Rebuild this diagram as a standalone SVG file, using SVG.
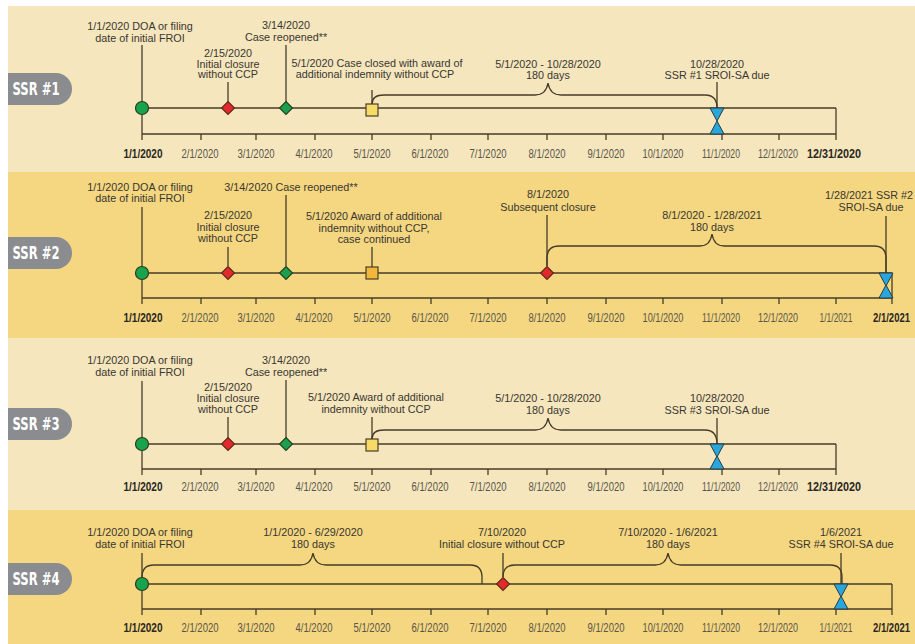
<svg xmlns="http://www.w3.org/2000/svg" width="915" height="644" viewBox="0 0 915 644">
<defs>
<style>
.bgL{fill:#f5e6bd}
.bgD{fill:#f4d780}
.pill{fill:#8b8c8f}
.pt{font-family:'DejaVu Sans Condensed','DejaVu Sans',sans-serif;font-weight:bold;font-size:17px;fill:#ffffff;text-anchor:middle}
.ln{stroke:#463c28;stroke-width:1.3;fill:none}
.lb{font-family:'Liberation Sans',Arial,sans-serif;font-size:10.8px;fill:#3a3631;text-anchor:middle}
.tk{font-family:'Liberation Sans',Arial,sans-serif;font-size:12.5px;fill:#5a554c;text-anchor:middle}
.tkb{font-family:'Liberation Sans',Arial,sans-serif;font-size:12.5px;font-weight:bold;fill:#2a2620;text-anchor:middle}
.st{text-anchor:start}
.en{text-anchor:end}
.circ{fill:#17a44c;stroke:#2d3a22;stroke-width:1.2}
.red{fill:#e2292c;stroke:#5a2a1c;stroke-width:1.1}
.grn{fill:#1e9e4f;stroke:#23401f;stroke-width:1.1}
.sqL{fill:#f8da66;stroke:#4a3f28;stroke-width:1.2}
.sqD{fill:#f2b63a;stroke:#4a3f28;stroke-width:1.2}
.tri{fill:#29a7dd;stroke:#2b3a40;stroke-width:1}
</style>
</defs>
<rect x="8" y="6" width="907" height="166" class="bgL"/>
<rect x="8" y="172" width="907" height="166" class="bgD"/>
<rect x="8" y="338" width="907" height="172" class="bgL"/>
<rect x="8" y="510" width="907" height="134" class="bgD"/>

<!-- Panel 1 -->
<g id="ssr1-label"><path class="pill" d="M8,73 H56 A16,16 0 0 1 56,105 H8 Z"/><text class="pt" x="36" y="95" textLength="47" lengthAdjust="spacingAndGlyphs">SSR #1</text></g>
<g id="ssr1-connectors">
<line class="ln" x1="142" y1="108" x2="836" y2="108"/>
<line class="ln" x1="142" y1="134" x2="836" y2="134"/>
<line class="ln" x1="142" y1="45" x2="142" y2="140"/>
<line class="ln" x1="836" y1="108" x2="836" y2="140"/>
<path class="ln" d="M201,134V140M256,134V140M315,134V140M372,134V140M431,134V140M488,134V140M547,134V140M606,134V140M663,134V140M722,134V140M779,134V140"/>
<line class="ln" x1="228" y1="82" x2="228" y2="102"/>
<line class="ln" x1="286" y1="45" x2="286" y2="102"/>
<line class="ln" x1="372" y1="90" x2="372" y2="104"/>
<line class="ln" x1="717" y1="82" x2="717" y2="108"/>
<path class="ln" d="M372,104 Q372,95 384,95 H535 Q546,95 548,83 Q550,95 561,95 H705 Q717,95 717,108"/>
</g>
<g id="ssr1-events">
<circle class="circ" cx="142" cy="108" r="6.5"/>
<polygon class="red" points="228,101.5 234.5,108 228,114.5 221.5,108"/>
<polygon class="grn" points="286,101.5 292.5,108 286,114.5 279.5,108"/>
<rect class="sqL" x="366" y="104" width="12" height="12"/>
<polygon class="tri" points="710,108 724,108 717,121"/>
<polygon class="tri" points="710,134 724,134 717,121"/>
</g>
<g id="ssr1-texts">
<text class="lb" x="140" y="30">1/1/2020 DOA or filing</text>
<text class="lb" x="140" y="42">date of initial FROI</text>
<text class="lb" x="228" y="57">2/15/2020</text>
<text class="lb" x="228" y="67.5">Initial closure</text>
<text class="lb" x="228" y="78">without CCP</text>
<text class="lb" x="286" y="29">3/14/2020</text>
<text class="lb" x="286" y="41">Case reopened**</text>
<text class="lb" x="377" y="67">5/1/2020 Case closed with award of</text>
<text class="lb" x="375" y="78">additional indemnity without CCP</text>
<text class="lb" x="548" y="68">5/1/2020 - 10/28/2020</text>
<text class="lb" x="548" y="79">180 days</text>
<text class="lb" x="717" y="68">10/28/2020</text>
<text class="lb" x="717" y="79">SSR #1 SROI-SA due</text>
</g>
<g id="ssr1-axis">
<text class="tkb" x="143" y="158" textLength="39" lengthAdjust="spacingAndGlyphs">1/1/2020</text>
<text class="tk" x="200" y="158" textLength="37" lengthAdjust="spacingAndGlyphs">2/1/2020</text>
<text class="tk" x="256" y="158" textLength="37" lengthAdjust="spacingAndGlyphs">3/1/2020</text>
<text class="tk" x="314" y="158" textLength="37" lengthAdjust="spacingAndGlyphs">4/1/2020</text>
<text class="tk" x="372" y="158" textLength="37" lengthAdjust="spacingAndGlyphs">5/1/2020</text>
<text class="tk" x="430" y="158" textLength="37" lengthAdjust="spacingAndGlyphs">6/1/2020</text>
<text class="tk" x="488" y="158" textLength="37" lengthAdjust="spacingAndGlyphs">7/1/2020</text>
<text class="tk" x="547" y="158" textLength="37" lengthAdjust="spacingAndGlyphs">8/1/2020</text>
<text class="tk" x="606" y="158" textLength="37" lengthAdjust="spacingAndGlyphs">9/1/2020</text>
<text class="tk" x="663" y="158" textLength="41" lengthAdjust="spacingAndGlyphs">10/1/2020</text>
<text class="tk" x="721" y="158" textLength="38" lengthAdjust="spacingAndGlyphs">11/1/2020</text>
<text class="tk" x="778" y="158" textLength="40" lengthAdjust="spacingAndGlyphs">12/1/2020</text>
<text class="tkb st" x="807" y="158" textLength="54" lengthAdjust="spacingAndGlyphs">12/31/2020</text>
</g>

<!-- Panel 2 -->
<g id="ssr2-label"><path class="pill" d="M8,237 H56 A16,16 0 0 1 56,269 H8 Z"/><text class="pt" x="36" y="259" textLength="47" lengthAdjust="spacingAndGlyphs">SSR #2</text></g>
<g id="ssr2-connectors">
<line class="ln" x1="142" y1="273" x2="892" y2="273"/>
<line class="ln" x1="142" y1="298" x2="892" y2="298"/>
<line class="ln" x1="142" y1="207" x2="142" y2="304"/>
<line class="ln" x1="892" y1="273" x2="892" y2="304"/>
<path class="ln" d="M201,298V304M256,298V304M315,298V304M372,298V304M431,298V304M488,298V304M547,298V304M606,298V304M663,298V304M722,298V304M779,298V304M836,298V304"/>
<line class="ln" x1="228" y1="247" x2="228" y2="266"/>
<line class="ln" x1="286" y1="195" x2="286" y2="266"/>
<line class="ln" x1="372" y1="247" x2="372" y2="267"/>
<line class="ln" x1="547" y1="215" x2="547" y2="266"/>
<line class="ln" x1="886" y1="216" x2="886" y2="273"/>
<path class="ln" d="M547,266 V258 Q547,246 559,246 H700 Q710,246 712,234 Q714,246 724,246 H874 Q886,246 886,258 V273"/>
</g>
<g id="ssr2-events">
<circle class="circ" cx="142" cy="273" r="6.5"/>
<polygon class="red" points="228,266.5 234.5,273 228,279.5 221.5,273"/>
<polygon class="grn" points="286,266.5 292.5,273 286,279.5 279.5,273"/>
<rect class="sqD" x="366" y="267" width="12" height="12"/>
<polygon class="red" points="547,266.5 553.5,273 547,279.5 540.5,273"/>
<polygon class="tri" points="879,273 893,273 886,286"/>
<polygon class="tri" points="879,298 893,298 886,285"/>
</g>
<g id="ssr2-texts">
<text class="lb" x="140" y="191">1/1/2020 DOA or filing</text>
<text class="lb" x="140" y="202">date of initial FROI</text>
<text class="lb" x="291" y="191">3/14/2020 Case reopened**</text>
<text class="lb" x="228" y="219">2/15/2020</text>
<text class="lb" x="228" y="231">Initial closure</text>
<text class="lb" x="228" y="242">without CCP</text>
<text class="lb" x="374" y="220">5/1/2020 Award of additional</text>
<text class="lb" x="374" y="232">indemnity without CCP,</text>
<text class="lb" x="374" y="243">case continued</text>
<text class="lb" x="548" y="198">8/1/2020</text>
<text class="lb" x="548" y="211">Subsequent closure</text>
<text class="lb" x="712" y="219">8/1/2020 - 1/28/2021</text>
<text class="lb" x="712" y="231">180 days</text>
<text class="lb" x="869" y="199">1/28/2021 SSR #2</text>
<text class="lb" x="871" y="211">SROI-SA due</text>
</g>
<g id="ssr2-axis">
<text class="tkb" x="143" y="322" textLength="39" lengthAdjust="spacingAndGlyphs">1/1/2020</text>
<text class="tk" x="200" y="322" textLength="37" lengthAdjust="spacingAndGlyphs">2/1/2020</text>
<text class="tk" x="256" y="322" textLength="37" lengthAdjust="spacingAndGlyphs">3/1/2020</text>
<text class="tk" x="314" y="322" textLength="37" lengthAdjust="spacingAndGlyphs">4/1/2020</text>
<text class="tk" x="372" y="322" textLength="37" lengthAdjust="spacingAndGlyphs">5/1/2020</text>
<text class="tk" x="430" y="322" textLength="37" lengthAdjust="spacingAndGlyphs">6/1/2020</text>
<text class="tk" x="488" y="322" textLength="37" lengthAdjust="spacingAndGlyphs">7/1/2020</text>
<text class="tk" x="547" y="322" textLength="37" lengthAdjust="spacingAndGlyphs">8/1/2020</text>
<text class="tk" x="606" y="322" textLength="37" lengthAdjust="spacingAndGlyphs">9/1/2020</text>
<text class="tk" x="663" y="322" textLength="41" lengthAdjust="spacingAndGlyphs">10/1/2020</text>
<text class="tk" x="721" y="322" textLength="38" lengthAdjust="spacingAndGlyphs">11/1/2020</text>
<text class="tk" x="778" y="322" textLength="40" lengthAdjust="spacingAndGlyphs">12/1/2020</text>
<text class="tk" x="836" y="322" textLength="33" lengthAdjust="spacingAndGlyphs">1/1/2021</text>
<text class="tkb en" x="910" y="322" textLength="37" lengthAdjust="spacingAndGlyphs">2/1/2021</text>
</g>

<!-- Panel 3 -->
<g id="ssr3-label"><path class="pill" d="M8,408 H56 A16,16 0 0 1 56,440 H8 Z"/><text class="pt" x="36" y="430" textLength="47" lengthAdjust="spacingAndGlyphs">SSR #3</text></g>
<g id="ssr3-connectors">
<line class="ln" x1="142" y1="444" x2="836" y2="444"/>
<line class="ln" x1="142" y1="469" x2="836" y2="469"/>
<line class="ln" x1="142" y1="381" x2="142" y2="475"/>
<line class="ln" x1="836" y1="444" x2="836" y2="475"/>
<path class="ln" d="M201,469V475M256,469V475M315,469V475M372,469V475M431,469V475M488,469V475M547,469V475M606,469V475M663,469V475M722,469V475M779,469V475"/>
<line class="ln" x1="228" y1="417" x2="228" y2="438"/>
<line class="ln" x1="286" y1="380" x2="286" y2="438"/>
<line class="ln" x1="372" y1="417" x2="372" y2="439"/>
<line class="ln" x1="717" y1="418" x2="717" y2="444"/>
<path class="ln" d="M372,439 Q372,430 384,430 H535 Q546,430 548,418 Q550,430 561,430 H705 Q717,430 717,444"/>
</g>
<g id="ssr3-events">
<circle class="circ" cx="142" cy="444" r="6.5"/>
<polygon class="red" points="228,437.5 234.5,444 228,450.5 221.5,444"/>
<polygon class="grn" points="286,437.5 292.5,444 286,450.5 279.5,444"/>
<rect class="sqL" x="366" y="439" width="12" height="12"/>
<polygon class="tri" points="710,444 724,444 717,457"/>
<polygon class="tri" points="710,469 724,469 717,456"/>
</g>
<g id="ssr3-texts">
<text class="lb" x="140" y="364">1/1/2020 DOA or filing</text>
<text class="lb" x="140" y="376">date of initial FROI</text>
<text class="lb" x="286" y="364">3/14/2020</text>
<text class="lb" x="286" y="376">Case reopened**</text>
<text class="lb" x="228" y="391">2/15/2020</text>
<text class="lb" x="228" y="402">Initial closure</text>
<text class="lb" x="228" y="413">without CCP</text>
<text class="lb" x="376" y="401">5/1/2020 Award of additional</text>
<text class="lb" x="376" y="413">indemnity without CCP</text>
<text class="lb" x="548" y="402">5/1/2020 - 10/28/2020</text>
<text class="lb" x="548" y="414">180 days</text>
<text class="lb" x="717" y="402">10/28/2020</text>
<text class="lb" x="717" y="414">SSR #3 SROI-SA due</text>
</g>
<g id="ssr3-axis">
<text class="tkb" x="143" y="491" textLength="39" lengthAdjust="spacingAndGlyphs">1/1/2020</text>
<text class="tk" x="200" y="491" textLength="37" lengthAdjust="spacingAndGlyphs">2/1/2020</text>
<text class="tk" x="256" y="491" textLength="37" lengthAdjust="spacingAndGlyphs">3/1/2020</text>
<text class="tk" x="314" y="491" textLength="37" lengthAdjust="spacingAndGlyphs">4/1/2020</text>
<text class="tk" x="372" y="491" textLength="37" lengthAdjust="spacingAndGlyphs">5/1/2020</text>
<text class="tk" x="430" y="491" textLength="37" lengthAdjust="spacingAndGlyphs">6/1/2020</text>
<text class="tk" x="488" y="491" textLength="37" lengthAdjust="spacingAndGlyphs">7/1/2020</text>
<text class="tk" x="547" y="491" textLength="37" lengthAdjust="spacingAndGlyphs">8/1/2020</text>
<text class="tk" x="606" y="491" textLength="37" lengthAdjust="spacingAndGlyphs">9/1/2020</text>
<text class="tk" x="663" y="491" textLength="41" lengthAdjust="spacingAndGlyphs">10/1/2020</text>
<text class="tk" x="721" y="491" textLength="38" lengthAdjust="spacingAndGlyphs">11/1/2020</text>
<text class="tk" x="778" y="491" textLength="40" lengthAdjust="spacingAndGlyphs">12/1/2020</text>
<text class="tkb st" x="807" y="491" textLength="54" lengthAdjust="spacingAndGlyphs">12/31/2020</text>
</g>

<!-- Panel 4 -->
<g id="ssr4-label"><path class="pill" d="M8,563 H56 A16,16 0 0 1 56,595 H8 Z"/><text class="pt" x="36" y="585" textLength="47" lengthAdjust="spacingAndGlyphs">SSR #4</text></g>
<g id="ssr4-connectors">
<line class="ln" x1="142" y1="584" x2="892" y2="584"/>
<line class="ln" x1="142" y1="609" x2="892" y2="609"/>
<line class="ln" x1="142" y1="553" x2="142" y2="615"/>
<line class="ln" x1="892" y1="584" x2="892" y2="615"/>
<path class="ln" d="M201,609V615M256,609V615M315,609V615M372,609V615M431,609V615M488,609V615M547,609V615M606,609V615M663,609V615M722,609V615M779,609V615M836,609V615"/>
<line class="ln" x1="503" y1="553" x2="503" y2="577"/>
<line class="ln" x1="841" y1="553" x2="841" y2="584"/>
<path class="ln" d="M142,577 Q142,565 154,565 H300 Q311,565 313,553 Q315,565 326,565 H470 Q482,565 482,577 V584"/>
<path class="ln" d="M503,577 Q503,565 515,565 H655 Q666,565 668,553 Q670,565 681,565 H830 Q842,565 842,577 V584"/>
</g>
<g id="ssr4-events">
<circle class="circ" cx="142" cy="584" r="6.5"/>
<polygon class="red" points="503,577.5 509.5,584 503,590.5 496.5,584"/>
<polygon class="tri" points="834,584 848,584 841,597"/>
<polygon class="tri" points="834,609 848,609 841,596"/>
</g>
<g id="ssr4-texts">
<text class="lb" x="140" y="536">1/1/2020 DOA or filing</text>
<text class="lb" x="140" y="548">date of initial FROI</text>
<text class="lb" x="313" y="536">1/1/2020 - 6/29/2020</text>
<text class="lb" x="313" y="548">180 days</text>
<text class="lb" x="502" y="536">7/10/2020</text>
<text class="lb" x="502" y="548">Initial closure without CCP</text>
<text class="lb" x="668" y="536">7/10/2020 - 1/6/2021</text>
<text class="lb" x="668" y="548">180 days</text>
<text class="lb" x="841" y="536">1/6/2021</text>
<text class="lb" x="841" y="548">SSR #4 SROI-SA due</text>
</g>
<g id="ssr4-axis">
<text class="tkb" x="143" y="632" textLength="39" lengthAdjust="spacingAndGlyphs">1/1/2020</text>
<text class="tk" x="200" y="632" textLength="37" lengthAdjust="spacingAndGlyphs">2/1/2020</text>
<text class="tk" x="256" y="632" textLength="37" lengthAdjust="spacingAndGlyphs">3/1/2020</text>
<text class="tk" x="314" y="632" textLength="37" lengthAdjust="spacingAndGlyphs">4/1/2020</text>
<text class="tk" x="372" y="632" textLength="37" lengthAdjust="spacingAndGlyphs">5/1/2020</text>
<text class="tk" x="430" y="632" textLength="37" lengthAdjust="spacingAndGlyphs">6/1/2020</text>
<text class="tk" x="488" y="632" textLength="37" lengthAdjust="spacingAndGlyphs">7/1/2020</text>
<text class="tk" x="547" y="632" textLength="37" lengthAdjust="spacingAndGlyphs">8/1/2020</text>
<text class="tk" x="606" y="632" textLength="37" lengthAdjust="spacingAndGlyphs">9/1/2020</text>
<text class="tk" x="663" y="632" textLength="41" lengthAdjust="spacingAndGlyphs">10/1/2020</text>
<text class="tk" x="721" y="632" textLength="38" lengthAdjust="spacingAndGlyphs">11/1/2020</text>
<text class="tk" x="778" y="632" textLength="40" lengthAdjust="spacingAndGlyphs">12/1/2020</text>
<text class="tk" x="836" y="632" textLength="33" lengthAdjust="spacingAndGlyphs">1/1/2021</text>
<text class="tkb en" x="910" y="632" textLength="37" lengthAdjust="spacingAndGlyphs">2/1/2021</text>
</g>
</svg>
